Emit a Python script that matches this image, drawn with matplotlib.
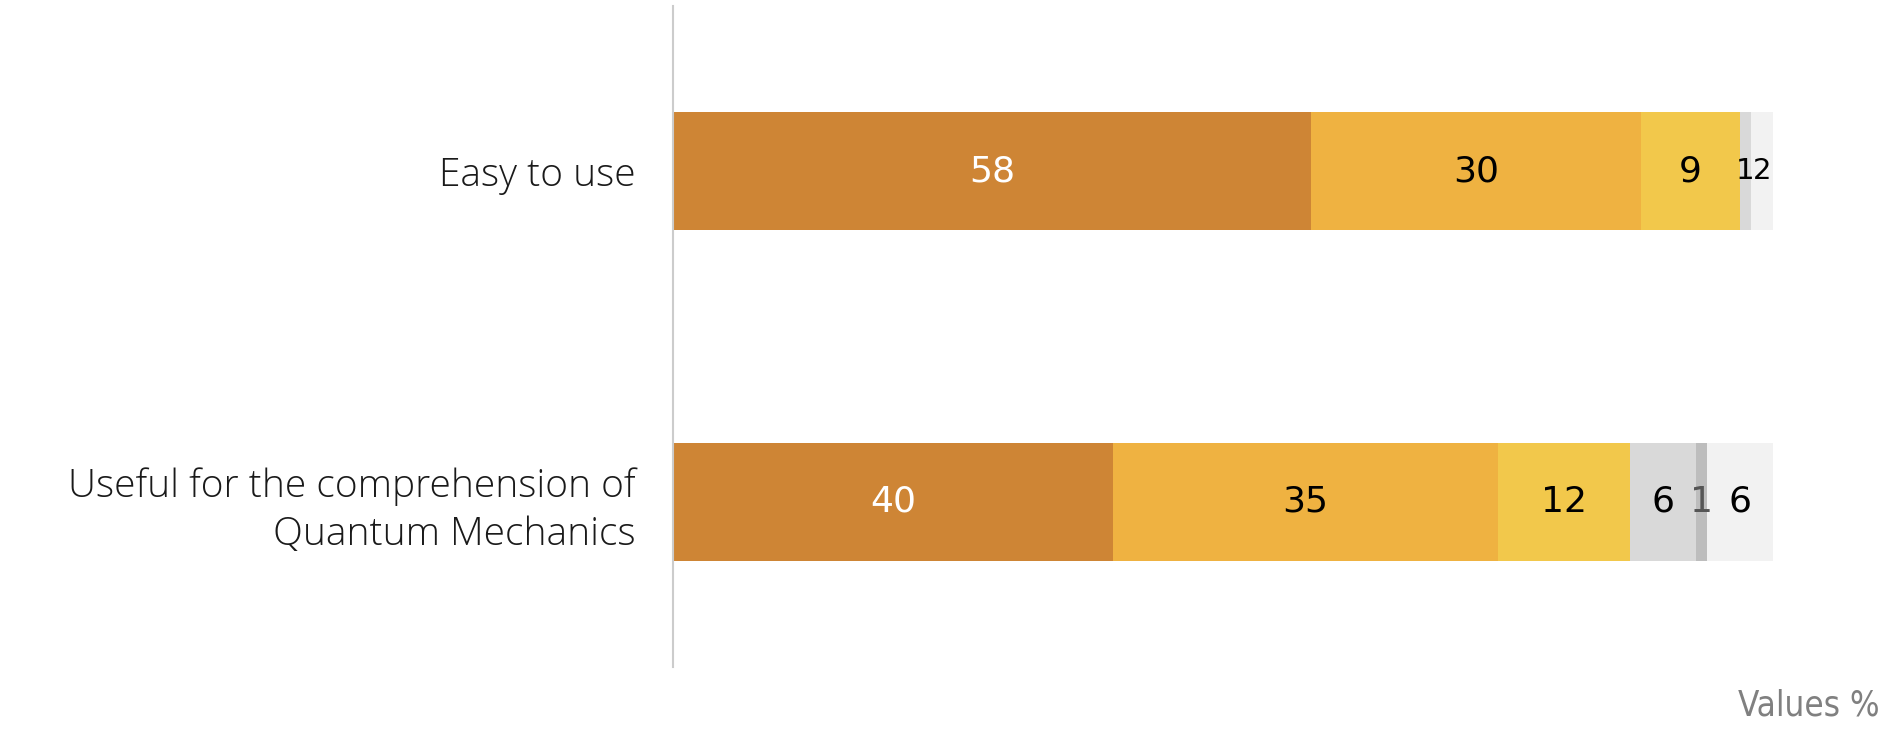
import matplotlib.pyplot as plt
import numpy as np

categorias = ['Easy to use', 'Useful for the comprehension of\nQuantum Mechanics']
# valores em % por segmento (da esquerda para a direita)
seg1 = [58, 40]
seg2 = [30, 35]
seg3 = [9, 12]
seg4 = [1, 6]
seg5 = [0, 1]
seg6 = [2, 6]

segmentos = [seg1, seg2, seg3, seg4, seg5, seg6]
cores = ['#CE8535', '#EFB241', '#F2C84B', '#D9D9D9', '#BDBDBD', '#F2F2F2']
cores_texto = ['white', 'black', 'black', 'black', '#555555', 'black']

fig = plt.figure(figsize=(18.96, 7.29), dpi=100)
ax = fig.add_axes([673 / 1896, 1 - 667 / 729, 1100 / 1896, 661 / 729])

y = np.arange(len(categorias))
esquerda = np.zeros(len(categorias))
for valores, cor, cor_txt in zip(segmentos, cores, cores_texto):
    valores = np.array(valores, dtype=float)
    ax.barh(y, valores, left=esquerda, height=0.356, color=cor, edgecolor='none')
    for i, v in enumerate(valores):
        if v > 0:
            tam = 26 if (v >= 3 or i == 1) else 21
            ax.text(esquerda[i] + v / 2, y[i], f'{int(v)}', ha='center', va='center',
                    fontsize=tam, color=cor_txt, family='DejaVu Sans')
    esquerda += valores

ax.set_xlim(0, 100)
ax.set_ylim(1.5, -0.5)
ax.set_xticks([])
ax.set_yticks(y)
ax.set_yticklabels(categorias, fontsize=28, color='#1a1a1a', linespacing=1.3)
for lbl in ax.get_yticklabels():
    lbl.set_fontfamily(['Open Sans', 'DejaVu Sans'])
    lbl.set_fontweight('light')
ax.tick_params(axis='y', length=0, pad=27)

for lado in ['top', 'right', 'bottom']:
    ax.spines[lado].set_visible(False)
ax.spines['left'].set_color('#CCCCCC')
ax.spines['left'].set_linewidth(1.5)

fig.text(1880 / 1896, 1 - 705 / 729, 'Values %', ha='right', va='center',
         fontsize=25, color='#808080',
         family=['DejaVu Sans Condensed', 'Liberation Sans Narrow', 'DejaVu Sans'],
         fontstretch='condensed')

fig.savefig('out.png', dpi=100)
